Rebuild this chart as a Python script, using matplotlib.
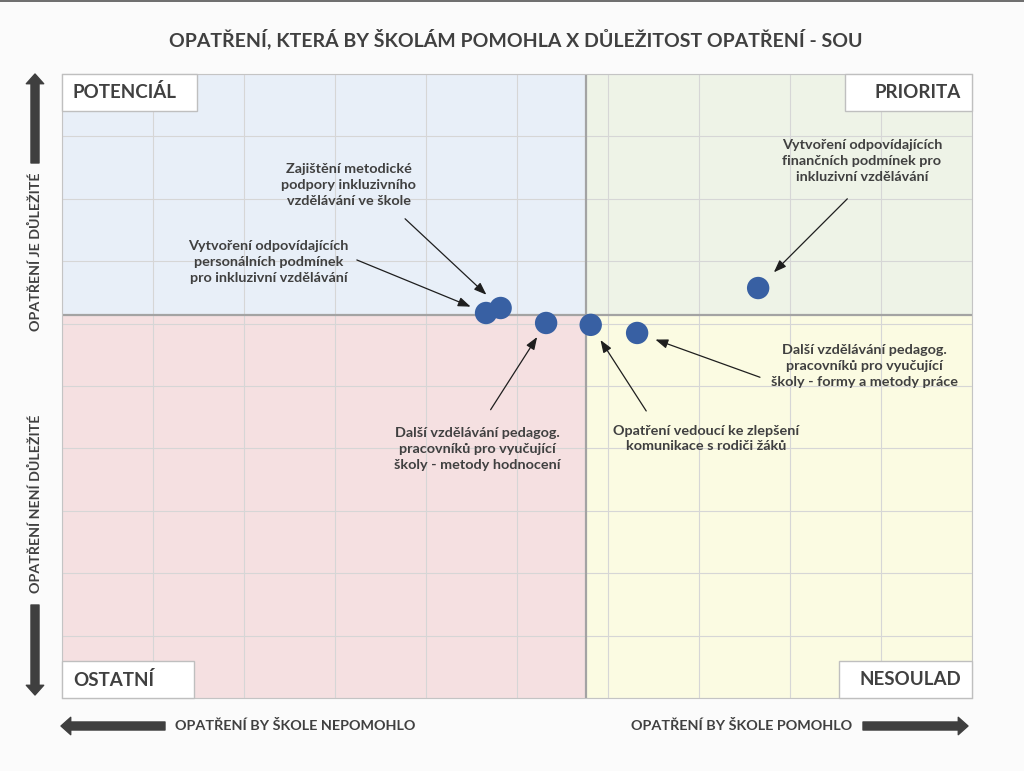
"""
Kvadrantový graf: opatření, která by školám pomohla x důležitost opatření (SOU).
Dělicí čáry kvadrantů leží na průměrech obou os.
"""
import numpy as np
import matplotlib
matplotlib.use("Agg")  # bez GUI, kreslíme rovnou do souboru
import matplotlib.pyplot as plt
from matplotlib.patches import Rectangle

plt.rcParams["font.family"] = ["Lato", "DejaVu Sans"]

TEXT = "#404040"
W, H = 1024, 771

# --- data ---
opatreni = [
    "Vytvoření odpovídajících\npersonálních podmínek\npro inkluzivní vzdělávání",
    "Zajištění metodické\npodpory inkluzivního\nvzdělávání ve škole",
    "Další vzdělávání pedagog.\npracovníků pro vyučující\nškoly - metody hodnocení",
    "Opatření vedoucí ke zlepšení\nkomunikace s rodiči žáků",
    "Další vzdělávání pedagog.\npracovníků pro vyučující\nškoly - formy a metody práce",
    "Vytvoření odpovídajících\nfinančních podmínek pro\ninkluzivní vzdělávání",
]
pomohlo = [4.66, 4.82, 5.32, 5.81, 6.32, 7.65]
dulezitost = [6.17, 6.25, 6.01, 5.98, 5.85, 6.57]

kvadranty = ["POTENCIÁL", "PRIORITA", "OSTATNÍ", "NESOULAD"]

# rozložení popisků: střed textu, začátek šipky, zkrácení u bodu (pt)
popis_xy = [(2.27, 6.99), (3.15, 8.22), (4.56, 3.99), (7.08, 4.16), (8.82, 5.32), (8.79, 8.61)]
sipka_od = [(3.24, 7.02), (3.77, 7.68), (4.71, 4.62), (6.42, 4.60), (7.67, 5.14), (8.63, 8.00)]
zkraceni = [12, 14, 12, 13, 14, 16]

fig = plt.figure(figsize=(W / 100, H / 100), dpi=100)
fig.patch.set_facecolor("#FBFBFB")
ax = fig.add_axes([62 / W, 73 / H, 910 / W, 624 / H])

mx, my = np.mean(pomohlo), np.mean(dulezitost)
x0, x1, y0, y1 = 0, 10, 0, 10

# podbarvení kvadrantů
ax.add_patch(Rectangle((x0, my), mx - x0, y1 - my, color="#E8EFF8", zorder=0))
ax.add_patch(Rectangle((mx, my), x1 - mx, y1 - my, color="#EEF3E7", zorder=0))
ax.add_patch(Rectangle((x0, y0), mx - x0, my - y0, color="#F5E0E1", zorder=0))
ax.add_patch(Rectangle((mx, y0), x1 - mx, my - y0, color="#FBFBE2", zorder=0))

ax.set_xlim(x0, x1)
ax.set_ylim(y0, y1)
ax.set_xticks(range(11))
ax.set_yticks(range(11))
ax.tick_params(length=0, labelbottom=False, labelleft=False)
ax.grid(color="#D6D6D6", linewidth=0.8, zorder=1)
ax.set_axisbelow(True)
for spine in ax.spines.values():
    spine.set_color("#C4C4C4")

ax.axvline(mx, color="#A3A3A3", linewidth=1.6, zorder=2)
ax.axhline(my, color="#A3A3A3", linewidth=1.6, zorder=2)

ax.scatter(pomohlo, dulezitost, s=260, color="#3860A3", edgecolors="none", zorder=5)

for text, bod_x, bod_y, (tx, ty), (ax_, ay), shr in zip(
        opatreni, pomohlo, dulezitost, popis_xy, sipka_od, zkraceni):
    ax.annotate("", xy=(bod_x, bod_y), xytext=(ax_, ay),
                arrowprops=dict(arrowstyle="-|>,head_length=0.75,head_width=0.28",
                                color="#1E1E1E", lw=0.9, shrinkA=0, shrinkB=shr),
                zorder=4)
    ax.text(tx, ty, text, ha="center", va="center", fontsize=10.4,
            fontweight="bold", color=TEXT, linespacing=1.38, zorder=4)

# štítky kvadrantů
box_w = [0.148, 0.140, 0.145, 0.146]
for i, (name, bw) in enumerate(zip(kvadranty, box_w)):
    left = i % 2 == 0
    top = i < 2
    bx = 0 if left else 1 - bw
    by = 1 - 0.059 if top else 0
    ax.add_patch(Rectangle((bx, by), bw, 0.059, transform=ax.transAxes,
                           facecolor="white", edgecolor="#BFBFBF", lw=1,
                           zorder=6, clip_on=False))
    ax.text(0.012 if left else 0.988, by + 0.0295, name, transform=ax.transAxes,
            ha="left" if left else "right", va="center", fontsize=13.5,
            fontweight="bold", color=TEXT, zorder=7)

# titulek
fig.text(516 / W, 1 - 39 / H, "OPATŘENÍ, KTERÁ BY ŠKOLÁM POMOHLA X DŮLEŽITOST OPATŘENÍ - SOU",
         ha="center", va="center", fontsize=14, fontweight="bold", color=TEXT)

# popisy os se šipkami
big = dict(arrowstyle="simple,head_length=0.7,head_width=1.25,tail_width=0.58",
           color="#3F3F3F", shrinkA=0, shrinkB=0, mutation_scale=10)
ax.annotate("", xy=(35, H - 74), xytext=(35, H - 163), xycoords="figure pixels",
            textcoords="figure pixels", arrowprops=big)
ax.annotate("", xy=(35, H - 695), xytext=(35, H - 605), xycoords="figure pixels",
            textcoords="figure pixels", arrowprops=big)
ax.annotate("", xy=(61, H - 726), xytext=(165, H - 726), xycoords="figure pixels",
            textcoords="figure pixels", arrowprops=big)
ax.annotate("", xy=(968, H - 726), xytext=(863, H - 726), xycoords="figure pixels",
            textcoords="figure pixels", arrowprops=big)

fig.text(35 / W, 1 - 252 / H, "OPATŘENÍ JE DŮLEŽITÉ", rotation=90, ha="center",
         va="center", fontsize=10.3, color=TEXT, fontweight="bold")
fig.text(35 / W, 1 - 504 / H, "OPATŘENÍ NENÍ DŮLEŽITÉ", rotation=90, ha="center",
         va="center", fontsize=10.3, color=TEXT, fontweight="bold")
fig.text(295.5 / W, 1 - 726 / H, "OPATŘENÍ BY ŠKOLE NEPOMOHLO", ha="center",
         va="center", fontsize=10.4, color=TEXT, fontweight="bold")
fig.text(741.5 / W, 1 - 726 / H, "OPATŘENÍ BY ŠKOLE POMOHLO", ha="center",
         va="center", fontsize=10.4, color=TEXT, fontweight="bold")

# tmavá linka u horního okraje
fig.add_artist(plt.Line2D([0, 1], [1 - 0.6 / H, 1 - 0.6 / H], color="#555555", lw=1.2))

fig.savefig("out.png", dpi=100, facecolor=fig.get_facecolor())
